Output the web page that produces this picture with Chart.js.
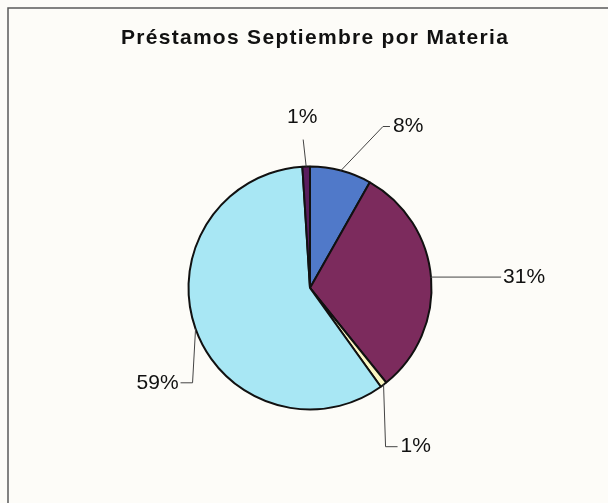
<!DOCTYPE html>
<html>
<head>
<meta charset="utf-8">
<script src="https://cdn.jsdelivr.net/npm/chart.js@4.4.0/dist/chart.umd.min.js"></script>
<style>
  html, body { margin: 0; padding: 0; background: #fdfcf8; }
  canvas { display: block; }
</style>
</head>
<body>
<canvas id="chart-pie" width="608" height="503"></canvas>
<script>
/* ── Data ─────────────────────────────────────────────────────── */
const TITLE = 'Préstamos Septiembre por Materia';

// slices clockwise from 12 o'clock (share of loans, %)
const CATEGORIES = ['Materia 1', 'Materia 2', 'Materia 3', 'Materia 4', 'Materia 5'];
const VALUES     = [8.2, 31.0, 0.9, 58.9, 1.0];

const COLORS = ['#5079c9', '#7c2b5d', '#fbf7c2', '#a8e7f4', '#5a1d5d'];

/* Leader line layout per slice, offsets from the slice's outer mid point:
   elbow, line end, text anchor, text align */
const CALLOUTS = [
  { elbow: [42, -44], end: [49, -44], text: [52, -44], align: 'left' },
  { elbow: [0, -1],   end: [70, -1],  text: [72, -1],  align: 'left' },
  { elbow: [2, 62],   end: [14, 62],  text: [17, 62],  align: 'left' },
  { elbow: [-3, 54],  end: [-15, 54], text: [-17, 54], align: 'right' },
  { elbow: [-3, -27], end: [-3, -27], text: [-4, -49], align: 'center' },
];

const FONT = "'Liberation Sans', Arial, sans-serif";

/* ── Frame + title ────────────────────────────────────────────── */
const frame = {
  id: 'frame',
  beforeDraw(chart) {
    const c = chart.ctx;
    c.save();
    c.fillStyle = '#fdfcf8';
    c.fillRect(0, 0, chart.width, chart.height);
    c.strokeStyle = '#5a5a5a';
    c.lineWidth = 1.5;
    c.beginPath();
    c.moveTo(8, chart.height);
    c.lineTo(8, 8);
    c.lineTo(chart.width, 8);
    c.stroke();

    c.fillStyle = '#111';
    c.font = `bold 21px ${FONT}`;
    c.letterSpacing = '1.3px';
    c.textAlign = 'center';
    c.textBaseline = 'middle';
    c.fillText(TITLE, 315, 38);
    c.restore();
  },
};

/* ── Percent labels with leader lines ─────────────────────────── */
const callouts = {
  id: 'callouts',
  afterDatasetsDraw(chart) {
    const c = chart.ctx;
    const total = VALUES.reduce((a, v) => a + v, 0);
    const arcs = chart.getDatasetMeta(0).data;
    c.save();
    c.font = `21px ${FONT}`;
    c.fillStyle = '#111';
    c.textBaseline = 'middle';
    arcs.forEach((arc, i) => {
      const { x, y, startAngle, endAngle, outerRadius } = arc.getProps(
        ['x', 'y', 'startAngle', 'endAngle', 'outerRadius'], true);
      const mid = (startAngle + endAngle) / 2;
      const ex = x + Math.cos(mid) * outerRadius;
      const ey = y + Math.sin(mid) * outerRadius;
      const co = CALLOUTS[i];

      c.strokeStyle = '#444';
      c.lineWidth = 1;
      c.beginPath();
      c.moveTo(ex, ey);
      c.lineTo(ex + co.elbow[0], ey + co.elbow[1]);
      c.lineTo(ex + co.end[0], ey + co.end[1]);
      c.stroke();

      c.textAlign = co.align;
      const pct = Math.round(VALUES[i] / total * 100) + '%';
      c.fillText(pct, ex + co.text[0], ey + co.text[1]);
    });
    c.restore();
  },
};

/* ── Chart ────────────────────────────────────────────────────── */
new Chart(document.getElementById('chart-pie').getContext('2d'), {
  type: 'pie',
  data: {
    labels: CATEGORIES,
    datasets: [{
      data: VALUES,
      backgroundColor: COLORS,
      borderColor: '#111',
      borderWidth: 2,
      hoverOffset: 0,
    }],
  },
  options: {
    responsive: false,
    animation: false,
    layout: { padding: { left: 187.5, right: 175.5, top: 165.5, bottom: 92.5 } },
    plugins: {
      legend: { display: false },
      title: { display: false },
      tooltip: { enabled: false },
    },
  },
  plugins: [frame, callouts],
});
</script>
</body>
</html>
